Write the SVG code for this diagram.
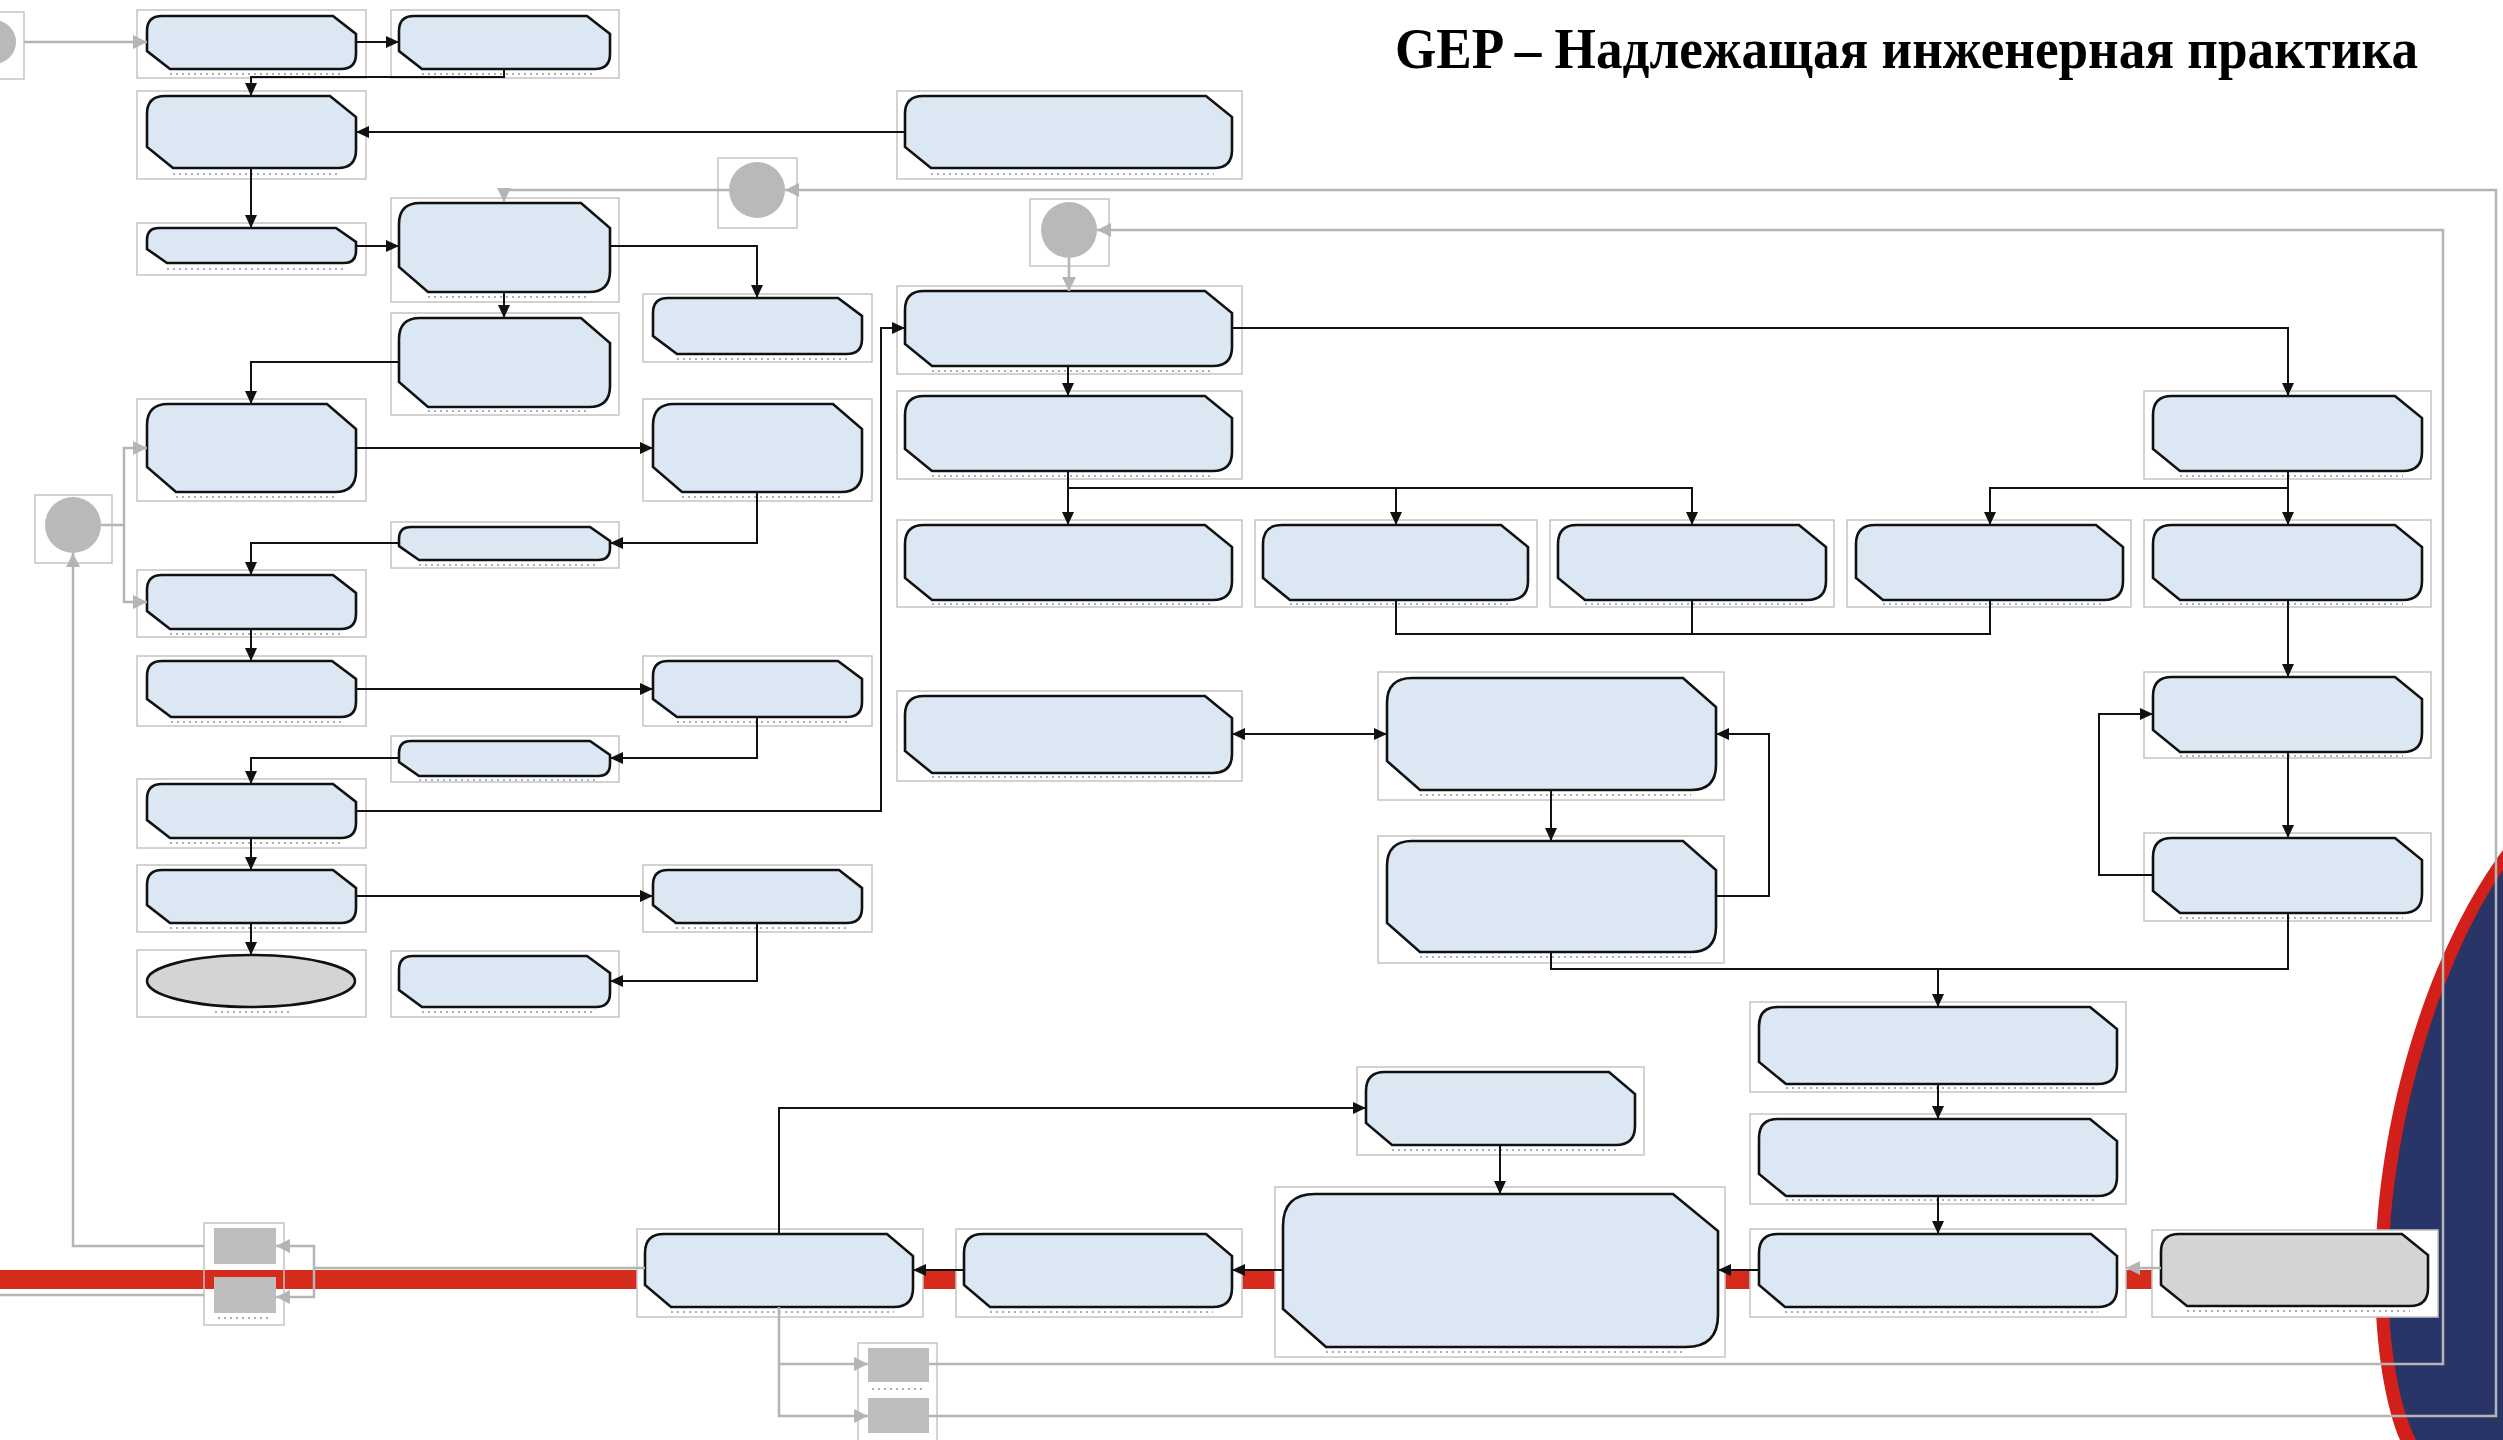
<svg xmlns="http://www.w3.org/2000/svg" width="2503" height="1440" viewBox="0 0 2503 1440">
<style>
.fr{fill:#fff;stroke:#c4c4c4;stroke-width:1.5}
.frt{fill:none;stroke:#c4c4c4;stroke-width:1.5}
.sh{fill:#dce7f4;stroke:#111;stroke-width:2.6}
.shg{fill:#d4d4d4;stroke:#111;stroke-width:2.6}
.dots{fill:none;stroke:#6b7a90;stroke-width:1.4;stroke-dasharray:2 4;opacity:.8}
.circ{fill:#b9b9b9}
.sq{fill:#bebebe}
.c{fill:none;stroke:#111;stroke-width:2}
.ca{fill:none;stroke:#111;stroke-width:2;marker-end:url(#arr)}
.g{fill:none;stroke:#b5b5b5;stroke-width:2.5}
.ga{fill:none;stroke:#b5b5b5;stroke-width:2.5;marker-end:url(#garr)}
.title{font-family:"Liberation Serif","Times New Roman",serif;font-weight:bold;font-size:56px;fill:#000}
</style>
<defs>
<marker id="arr" markerUnits="userSpaceOnUse" markerWidth="13" markerHeight="12" refX="13" refY="6" orient="auto"><path d="M0,0 L13,6 L0,12 Z" fill="#111"/></marker>
<marker id="garr" markerUnits="userSpaceOnUse" markerWidth="14" markerHeight="14" refX="14" refY="7" orient="auto"><path d="M0,0 L14,7 L0,14 Z" fill="#b5b5b5"/></marker>
</defs>
<rect width="2503" height="1440" fill="#fff"/>
<g id="background">
<path d="M2503,850 C2440,935 2388,1075 2377,1225 C2370,1320 2383,1400 2400,1440 L2503,1440 Z" fill="#d21f1a"/>
<path d="M2503,870 C2452,945 2401,1080 2390,1228 C2383,1320 2396,1400 2416,1440 L2503,1440 Z" fill="#283566"/>
<rect x="0" y="1270" width="2152" height="19" fill="#d42b1c"/>
</g>
<text class="title" x="1395" y="68" textLength="1023" lengthAdjust="spacingAndGlyphs">GEP – Надлежащая инженерная практика</text>
<g id="nodes">
<g id="n-g0"><rect class="fr" x="-10" y="12" width="34" height="67"/><circle class="circ" cx="-6" cy="42" r="22"/></g>
<g id="n-a1"><rect class="fr" x="137" y="10" width="229" height="68"/><path class="sh" d="M162,16 H333 L356,34 V54 Q356,69 341,69 H170 L147,51 V31 Q147,16 162,16 Z"/><path class="dots" d="M170,74 H341"/></g>
<g id="n-b1"><rect class="fr" x="391" y="10" width="228" height="68"/><path class="sh" d="M414,16 H587 L610,34 V54 Q610,69 595,69 H422 L399,51 V31 Q399,16 414,16 Z"/><path class="dots" d="M422,74 H595"/></g>
<g id="n-a3"><rect class="fr" x="137" y="91" width="229" height="88"/><path class="sh" d="M165,96 H330 L356,117 V150 Q356,168 338,168 H173 L147,147 V114 Q147,96 165,96 Z"/><path class="dots" d="M173,174 H338"/></g>
<g id="n-d0"><rect class="fr" x="897" y="91" width="345" height="88"/><path class="sh" d="M923,96 H1206 L1232,117 V150 Q1232,168 1214,168 H931 L905,147 V114 Q905,96 923,96 Z"/><path class="dots" d="M931,174 H1214"/></g>
<g id="n-a4"><rect class="fr" x="137" y="223" width="229" height="52"/><path class="sh" d="M159,228 H336 L356,242 V251 Q356,263 344,263 H167 L147,249 V240 Q147,228 159,228 Z"/><path class="dots" d="M167,269 H344"/></g>
<g id="n-b2"><rect class="fr" x="391" y="198" width="228" height="104"/><path class="sh" d="M420,203 H581 L610,228 V271 Q610,292 589,292 H428 L399,267 V224 Q399,203 420,203 Z"/><path class="dots" d="M428,297 H589"/></g>
<g id="n-b3"><rect class="fr" x="391" y="313" width="228" height="102"/><path class="sh" d="M420,318 H581 L610,343 V386 Q610,407 589,407 H428 L399,382 V339 Q399,318 420,318 Z"/><path class="dots" d="M428,411 H589"/></g>
<g id="n-c1"><rect class="fr" x="643" y="294" width="229" height="68"/><path class="sh" d="M668,298 H838 L862,316 V339 Q862,354 847,354 H677 L653,336 V313 Q653,298 668,298 Z"/><path class="dots" d="M677,359 H847"/></g>
<g id="n-a6"><rect class="fr" x="137" y="399" width="229" height="102"/><path class="sh" d="M168,404 H327 L356,429 V471 Q356,492 335,492 H176 L147,467 V425 Q147,404 168,404 Z"/><path class="dots" d="M176,497 H335"/></g>
<g id="n-c2"><rect class="fr" x="643" y="399" width="229" height="102"/><path class="sh" d="M674,404 H833 L862,429 V471 Q862,492 841,492 H682 L653,467 V425 Q653,404 674,404 Z"/><path class="dots" d="M682,497 H841"/></g>
<g id="n-b4"><rect class="fr" x="391" y="522" width="228" height="46"/><path class="sh" d="M411,527 H590 L610,541 V548 Q610,560 598,560 H419 L399,546 V539 Q399,527 411,527 Z"/><path class="dots" d="M419,565 H598"/></g>
<g id="n-a8"><rect class="fr" x="137" y="570" width="229" height="67"/><path class="sh" d="M162,575 H333 L356,593 V614 Q356,629 341,629 H170 L147,611 V590 Q147,575 162,575 Z"/><path class="dots" d="M170,634 H341"/></g>
<g id="n-a9"><rect class="fr" x="137" y="656" width="229" height="70"/><path class="sh" d="M162,661 H332 L356,679 V702 Q356,717 341,717 H171 L147,699 V676 Q147,661 162,661 Z"/><path class="dots" d="M171,722 H341"/></g>
<g id="n-c3"><rect class="fr" x="643" y="656" width="229" height="70"/><path class="sh" d="M668,661 H838 L862,679 V702 Q862,717 847,717 H677 L653,699 V676 Q653,661 668,661 Z"/><path class="dots" d="M677,722 H847"/></g>
<g id="n-b5"><rect class="fr" x="391" y="736" width="228" height="46"/><path class="sh" d="M411,741 H590 L610,755 V764 Q610,776 598,776 H419 L399,762 V753 Q399,741 411,741 Z"/><path class="dots" d="M419,780 H598"/></g>
<g id="n-a11"><rect class="fr" x="137" y="779" width="229" height="69"/><path class="sh" d="M162,784 H333 L356,802 V823 Q356,838 341,838 H170 L147,820 V799 Q147,784 162,784 Z"/><path class="dots" d="M170,843 H341"/></g>
<g id="n-a12"><rect class="fr" x="137" y="865" width="229" height="67"/><path class="sh" d="M162,870 H333 L356,888 V908 Q356,923 341,923 H170 L147,905 V885 Q147,870 162,870 Z"/><path class="dots" d="M170,928 H341"/></g>
<g id="n-c4"><rect class="fr" x="643" y="865" width="229" height="67"/><path class="sh" d="M668,870 H839 L862,888 V908 Q862,923 847,923 H676 L653,905 V885 Q653,870 668,870 Z"/><path class="dots" d="M676,928 H847"/></g>
<g id="n-a13"><rect class="fr" x="137" y="950" width="229" height="67"/><ellipse class="shg" cx="251" cy="981" rx="104" ry="26"/><path class="dots" d="M215,1012 H290"/></g>
<g id="n-b6"><rect class="fr" x="391" y="951" width="228" height="66"/><path class="sh" d="M413,956 H587 L610,973 V993 Q610,1007 596,1007 H422 L399,990 V970 Q399,956 413,956 Z"/><path class="dots" d="M422,1012 H596"/></g>
<g id="n-g1"><rect class="fr" x="718" y="158" width="79" height="70"/><circle class="circ" cx="757" cy="190" r="28"/></g>
<g id="n-g2"><rect class="fr" x="1030" y="199" width="79" height="67"/><circle class="circ" cx="1069" cy="230" r="28"/></g>
<g id="n-g3"><rect class="fr" x="35" y="495" width="77" height="68"/><circle class="circ" cx="73" cy="525" r="28"/></g>
<g id="n-d1"><rect class="fr" x="897" y="286" width="345" height="88"/><path class="sh" d="M924,291 H1205 L1232,313 V347 Q1232,366 1213,366 H932 L905,344 V310 Q905,291 924,291 Z"/><path class="dots" d="M932,371 H1213"/></g>
<g id="n-d2"><rect class="fr" x="897" y="391" width="345" height="88"/><path class="sh" d="M924,396 H1205 L1232,418 V452 Q1232,471 1213,471 H932 L905,449 V415 Q905,396 924,396 Z"/><path class="dots" d="M932,476 H1213"/></g>
<g id="n-i0"><rect class="fr" x="2144" y="391" width="287" height="88"/><path class="sh" d="M2172,396 H2395 L2422,418 V452 Q2422,471 2403,471 H2180 L2153,449 V415 Q2153,396 2172,396 Z"/><path class="dots" d="M2180,476 H2403"/></g>
<g id="n-d3"><rect class="fr" x="897" y="520" width="345" height="87"/><path class="sh" d="M924,525 H1205 L1232,547 V581 Q1232,600 1213,600 H932 L905,578 V544 Q905,525 924,525 Z"/><path class="dots" d="M932,604 H1213"/></g>
<g id="n-e1"><rect class="fr" x="1255" y="520" width="282" height="87"/><path class="sh" d="M1282,525 H1501 L1528,547 V581 Q1528,600 1509,600 H1290 L1263,578 V544 Q1263,525 1282,525 Z"/><path class="dots" d="M1290,604 H1509"/></g>
<g id="n-f1"><rect class="fr" x="1550" y="520" width="284" height="87"/><path class="sh" d="M1577,525 H1799 L1826,547 V581 Q1826,600 1807,600 H1585 L1558,578 V544 Q1558,525 1577,525 Z"/><path class="dots" d="M1585,604 H1807"/></g>
<g id="n-h1"><rect class="fr" x="1847" y="520" width="284" height="87"/><path class="sh" d="M1875,525 H2096 L2123,547 V581 Q2123,600 2104,600 H1883 L1856,578 V544 Q1856,525 1875,525 Z"/><path class="dots" d="M1883,604 H2104"/></g>
<g id="n-i1"><rect class="fr" x="2144" y="520" width="287" height="87"/><path class="sh" d="M2172,525 H2395 L2422,547 V581 Q2422,600 2403,600 H2180 L2153,578 V544 Q2153,525 2172,525 Z"/><path class="dots" d="M2180,604 H2403"/></g>
<g id="n-d4"><rect class="fr" x="897" y="691" width="345" height="90"/><path class="sh" d="M924,696 H1205 L1232,718 V754 Q1232,773 1213,773 H932 L905,751 V715 Q905,696 924,696 Z"/><path class="dots" d="M932,777 H1213"/></g>
<g id="n-i2"><rect class="fr" x="2144" y="672" width="287" height="86"/><path class="sh" d="M2172,677 H2395 L2422,699 V733 Q2422,752 2403,752 H2180 L2153,730 V696 Q2153,677 2172,677 Z"/><path class="dots" d="M2180,756 H2403"/></g>
<g id="n-i3"><rect class="fr" x="2144" y="833" width="287" height="88"/><path class="sh" d="M2172,838 H2395 L2422,860 V894 Q2422,913 2403,913 H2180 L2153,891 V857 Q2153,838 2172,838 Z"/><path class="dots" d="M2180,918 H2403"/></g>
<g id="n-m1"><rect class="fr" x="1378" y="672" width="346" height="128"/><path class="sh" d="M1412,678 H1683 L1716,707 V765 Q1716,790 1691,790 H1420 L1387,761 V703 Q1387,678 1412,678 Z"/><path class="dots" d="M1420,795 H1691"/></g>
<g id="n-m2"><rect class="fr" x="1378" y="836" width="346" height="127"/><path class="sh" d="M1412,841 H1683 L1716,870 V927 Q1716,952 1691,952 H1420 L1387,923 V866 Q1387,841 1412,841 Z"/><path class="dots" d="M1420,957 H1691"/></g>
<g id="n-j1"><rect class="fr" x="1750" y="1002" width="376" height="90"/><path class="sh" d="M1778,1007 H2090 L2117,1029 V1065 Q2117,1084 2098,1084 H1786 L1759,1062 V1026 Q1759,1007 1778,1007 Z"/><path class="dots" d="M1786,1088 H2098"/></g>
<g id="n-j2"><rect class="fr" x="1750" y="1114" width="376" height="90"/><path class="sh" d="M1778,1119 H2090 L2117,1141 V1177 Q2117,1196 2098,1196 H1786 L1759,1174 V1138 Q1759,1119 1778,1119 Z"/><path class="dots" d="M1786,1200 H2098"/></g>
<g id="n-j3"><rect class="fr" x="1750" y="1229" width="376" height="88"/><path class="sh" d="M1778,1234 H2091 L2117,1256 V1288 Q2117,1307 2098,1307 H1785 L1759,1285 V1253 Q1759,1234 1778,1234 Z"/><path class="dots" d="M1785,1312 H2098"/></g>
<g id="n-k"><rect class="fr" x="2152" y="1230" width="286" height="87"/><path class="shg" d="M2179,1234 H2402 L2428,1255 V1288 Q2428,1306 2410,1306 H2187 L2161,1285 V1252 Q2161,1234 2179,1234 Z"/><path class="dots" d="M2187,1311 H2410"/></g>
<g id="n-l"><rect class="fr" x="1275" y="1187" width="450" height="170"/><path class="sh" d="M1315,1194 H1673 L1718,1231 V1315 Q1718,1347 1686,1347 H1326 L1283,1309 V1226 Q1283,1194 1315,1194 Z"/><path class="dots" d="M1326,1352 H1686"/></g>
<g id="n-n1"><rect class="fr" x="1357" y="1067" width="287" height="88"/><path class="sh" d="M1385,1072 H1609 L1635,1094 V1126 Q1635,1145 1616,1145 H1392 L1366,1123 V1091 Q1366,1072 1385,1072 Z"/><path class="dots" d="M1392,1150 H1616"/></g>
<g id="n-p1"><rect class="fr" x="956" y="1229" width="286" height="88"/><path class="sh" d="M983,1234 H1206 L1232,1256 V1288 Q1232,1307 1213,1307 H990 L964,1285 V1253 Q964,1234 983,1234 Z"/><path class="dots" d="M990,1312 H1213"/></g>
<g id="n-q1"><rect class="fr" x="637" y="1229" width="286" height="88"/><path class="sh" d="M664,1234 H887 L913,1256 V1288 Q913,1307 894,1307 H671 L645,1285 V1253 Q645,1234 664,1234 Z"/><path class="dots" d="M671,1312 H894"/></g>
<g id="n-r"><rect class="frt" x="204" y="1223" width="80" height="102"/><rect class="sq" x="214" y="1228" width="62" height="36"/><rect class="sq" x="214" y="1277" width="62" height="36"/><path class="dots" d="M218,1318 H272"/></g>
<g id="n-s"><rect class="fr" x="858" y="1343" width="79" height="100"/><rect class="sq" x="868" y="1348" width="61" height="34"/><rect class="sq" x="868" y="1398" width="61" height="35"/><path class="dots" d="M872,1389 H925"/></g>
</g>
<g id="connectors">
<path class="ca" d="M356,42 H399"/>
<path class="ca" d="M504,69 V77 H251 V96"/>
<path class="ca" d="M905,132 H356"/>
<path class="ca" d="M251,168 V228"/>
<path class="ca" d="M356,246 H399"/>
<path class="ca" d="M610,246 H757 V298"/>
<path class="ca" d="M504,292 V318"/>
<path class="ca" d="M399,362 H251 V404"/>
<path class="ca" d="M356,448 H653"/>
<path class="ca" d="M757,492 V543 H610"/>
<path class="ca" d="M399,543 H251 V575"/>
<path class="ca" d="M251,629 V661"/>
<path class="ca" d="M356,689 H653"/>
<path class="ca" d="M757,717 V758 H610"/>
<path class="ca" d="M399,758 H251 V784"/>
<path class="ca" d="M356,811 H881 V328 H905"/>
<path class="ca" d="M251,838 V870"/>
<path class="ca" d="M356,896 H653"/>
<path class="ca" d="M251,923 V955"/>
<path class="ca" d="M757,923 V981 H610"/>
<path class="ca" d="M1068,366 V396"/>
<path class="ca" d="M1232,328 H2288 V396"/>
<path class="ca" d="M1068,471 V525"/>
<path class="ca" d="M1068,488 H1396 V525"/>
<path class="ca" d="M1396,488 H1692 V525"/>
<path class="ca" d="M2288,471 V525"/>
<path class="ca" d="M2288,488 H1990 V525"/>
<path class="c" d="M1396,600 V634 H1990 V600 M1692,600 V634"/>
<path class="ca" d="M2288,600 V677"/>
<path class="ca" d="M2288,752 V838"/>
<path class="ca" d="M2153,875 H2099 V714 H2153"/>
<path class="ca" d="M1310,734 H1232"/>
<path class="ca" d="M1310,734 H1387"/>
<path class="ca" d="M1551,790 V841"/>
<path class="ca" d="M1716,896 H1769 V734 H1716"/>
<path class="c" d="M1551,952 V969 H2288 V913"/>
<path class="ca" d="M1938,969 V1007"/>
<path class="ca" d="M1938,1084 V1119"/>
<path class="ca" d="M1938,1196 V1234"/>
<path class="ca" d="M1759,1270 H1718"/>
<path class="ca" d="M1283,1270 H1232"/>
<path class="ca" d="M964,1270 H913"/>
<path class="ca" d="M779,1234 V1108 H1366"/>
<path class="ca" d="M1500,1145 V1194"/>
<path class="ga" d="M24,42 H147"/>
<path class="g" d="M101,525 H124"/>
<path class="ga" d="M124,525 V448 H147"/>
<path class="ga" d="M124,525 V602 H147"/>
<path class="ga" d="M729,190 H504 V202"/>
<path class="ga" d="M1069,258 V291"/>
<path class="ga" d="M929,1364 H2443 V230 H1097"/>
<path class="ga" d="M929,1416 H2496 V190 H785"/>
<path class="ga" d="M779,1307 V1416 H868"/>
<path class="ga" d="M779,1364 H868"/>
<path class="g" d="M645,1268 H314"/>
<path class="ga" d="M314,1268 V1246 H276"/>
<path class="ga" d="M314,1268 V1297 H276"/>
<path class="ga" d="M204,1246 H73 V553"/>
<path class="g" d="M204,1295 H0"/>
<path class="ga" d="M2161,1268 H2126"/>
</g>
</svg>
